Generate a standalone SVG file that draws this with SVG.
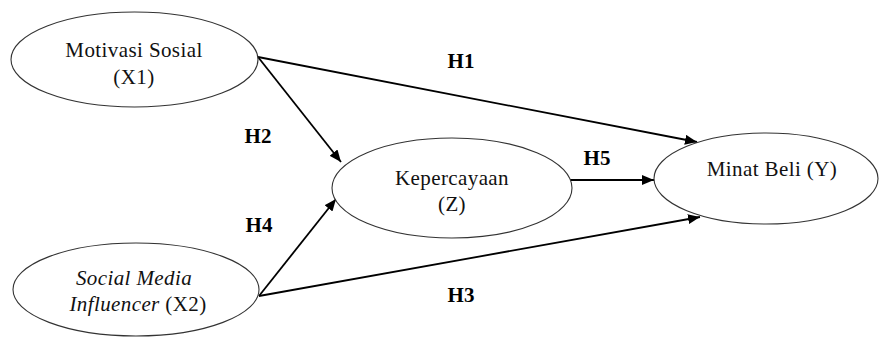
<svg xmlns="http://www.w3.org/2000/svg" width="879" height="338" viewBox="0 0 879 338">
<defs>
<marker id="ah" viewBox="0 0 12 10" refX="12" refY="5" markerWidth="12" markerHeight="10" markerUnits="userSpaceOnUse" orient="auto">
<path d="M0,0 L12,5 L0,10 z" fill="#000"/>
</marker>
<style>
.node{fill:#fff;stroke:#333;stroke-width:1.1}
.t{font-family:"Liberation Serif","Times New Roman",serif;font-size:21px;letter-spacing:0.4px;fill:#111;text-anchor:middle}
.h{font-family:"Liberation Serif","Times New Roman",serif;font-size:21px;font-weight:bold;fill:#000;text-anchor:middle}
.c{stroke:#000;stroke-width:1.8;fill:none}
</style>
</defs>
<rect width="879" height="338" fill="#fff"/>
<g id="connectors">
<line class="c" x1="258" y1="57" x2="697" y2="142" marker-end="url(#ah)"/>
<line class="c" x1="258" y1="57" x2="341" y2="162" marker-end="url(#ah)"/>
<line class="c" x1="259" y1="296" x2="336" y2="199" marker-end="url(#ah)"/>
<line class="c" x1="259" y1="296" x2="700" y2="217" marker-end="url(#ah)"/>
<line class="c" x1="568" y1="180" x2="654" y2="180" marker-end="url(#ah)"/>
</g>
<g id="labels">
<text class="h" x="461" y="68">H1</text>
<text class="h" x="258" y="143">H2</text>
<text class="h" x="259" y="232">H4</text>
<text class="h" x="597" y="165">H5</text>
<text class="h" x="461" y="302">H3</text>
</g>
<g id="motivasi">
<ellipse class="node" cx="134.5" cy="59.5" rx="123.5" ry="47.5"/>
<text class="t" x="134" y="57">Motivasi Sosial</text>
<text class="t" x="134" y="84">(X1)</text>
</g>
<g id="influencer">
<ellipse class="node" cx="136" cy="289.5" rx="123" ry="46.5"/>
<text class="t" x="134" y="285"><tspan font-style="italic">Social Media</tspan></text>
<text class="t" x="138" y="311"><tspan font-style="italic">Influencer</tspan> (X2)</text>
</g>
<g id="kepercayaan">
<ellipse class="node" cx="452" cy="188" rx="120" ry="50"/>
<text class="t" x="452" y="185">Kepercayaan</text>
<text class="t" x="452" y="211">(Z)</text>
</g>
<g id="minat">
<ellipse class="node" cx="766" cy="178.5" rx="112" ry="45.5"/>
<text class="t" x="772" y="176">Minat Beli (Y)</text>
</g>
</svg>
